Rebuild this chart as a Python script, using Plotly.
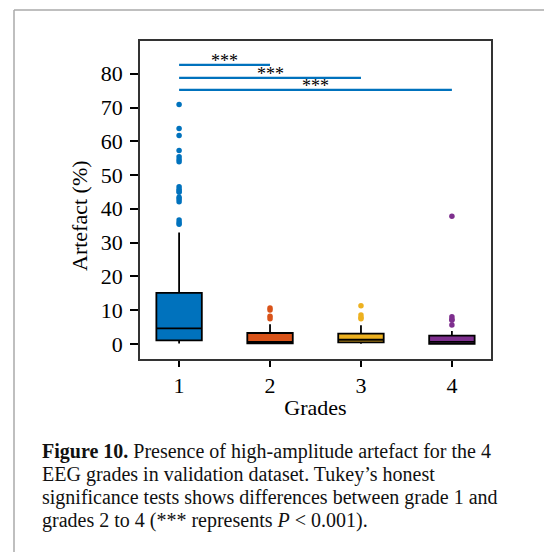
import plotly.graph_objects as go

# ---- data ----
grades = [1, 2, 3, 4]
colors = ["#0072BD", "#D95319", "#EDB120", "#7E2F8E"]
q1 = [1.0, 0.1, 0.4, 0.0]
medians = [4.6, 0.6, 1.2, 0.6]
q3 = [15.1, 3.2, 3.0, 2.4]
lower_whisker = [0.1, 0.0, 0.0, 0.0]
upper_whisker = [33.0, 5.8, 5.5, 3.8]
outliers_g1 = [70.9, 63.8, 61.7, 57.3, 55.4, 54.6, 53.9, 46.5, 45.8, 45.3, 44.9,
               43.4, 42.8, 42.1, 36.7, 35.9, 35.4]
outliers_g2 = [10.6, 10.0, 8.2, 7.4]
outliers_g3 = [11.3, 8.5, 7.8, 7.4]
outliers_g4 = [37.8, 8.0, 7.3, 7.0, 5.6]
outliers = [outliers_g1, outliers_g2, outliers_g3, outliers_g4]

sig_pairs = [(1, 2), (1, 3), (1, 4)]
sig_heights = [82.6, 78.8, 75.2]
sig_labels = ["***", "***", "***"]

caption_lines = [
    "<b>Figure 10.</b> Presence of high-amplitude artefact for the 4",
    "EEG grades in validation dataset. Tukey’s honest",
    "significance tests shows differences between grade 1 and",
    "grades 2 to 4 (*** represents <i>P</i> &lt; 0.001).",
]

W, H = 544, 552
L, R, T, B = 140, 491, 41, 359  # plot area in pixels
SERIF = "Liberation Serif, Times New Roman, serif"

fig = go.Figure()

for g, c, a, m, b, lo, hi in zip(grades, colors, q1, medians, q3, lower_whisker, upper_whisker):
    fig.add_trace(go.Box(
        x=[g], q1=[a], median=[m], q3=[b], lowerfence=[lo], upperfence=[hi],
        width=0.5, fillcolor=c, line=dict(color="black", width=1.8),
        whiskerwidth=0, boxpoints=False, showlegend=False, hoverinfo="skip",
    ))

for g, c, pts in zip(grades, colors, outliers):
    fig.add_trace(go.Scatter(
        x=[g] * len(pts), y=pts, mode="markers",
        marker=dict(color=c, size=5.5), showlegend=False, hoverinfo="skip",
    ))

for (a, b), h, lab in zip(sig_pairs, sig_heights, sig_labels):
    fig.add_trace(go.Scatter(
        x=[a, b], y=[h, h], mode="lines",
        line=dict(color="#0072BD", width=2.2), showlegend=False, hoverinfo="skip",
    ))
    fig.add_annotation(x=(a + b) / 2, y=h, text=lab, showarrow=False,
                       xanchor="center", yanchor="bottom", yshift=-8,
                       font=dict(family=SERIF, size=18, color="black"))

# caption
def px_to_paper_x(px):
    return (px - L) / (R - L)

def px_to_paper_y(py):
    return (B - py) / (B - T)

caption_y = [451.5, 474.5, 497.5, 520.0]
for line, yy in zip(caption_lines, caption_y):
    fig.add_annotation(x=px_to_paper_x(40), y=px_to_paper_y(yy), xref="paper", yref="paper",
                       text=line, showarrow=False, xanchor="left", yanchor="middle",
                       font=dict(family=SERIF, size=20, color="#111"))

# y-axis title (placed as in the reference)
fig.add_annotation(x=px_to_paper_x(79), y=px_to_paper_y(216), xref="paper", yref="paper",
                   text="Artefact (%)", textangle=-90, showarrow=False,
                   xanchor="center", yanchor="middle",
                   font=dict(family=SERIF, size=22, color="black"))

# page border lines
border = "#aaaaaa"
fig.add_shape(type="line", xref="paper", yref="paper",
              x0=px_to_paper_x(14), x1=px_to_paper_x(14),
              y0=px_to_paper_y(10), y1=px_to_paper_y(560),
              line=dict(color=border, width=1.5))
fig.add_shape(type="line", xref="paper", yref="paper",
              x0=px_to_paper_x(14), x1=px_to_paper_x(560),
              y0=px_to_paper_y(10), y1=px_to_paper_y(10),
              line=dict(color=border, width=1.5))

axis_common = dict(showgrid=False, zeroline=False, showline=True, mirror=True,
                   linecolor="#333333", linewidth=1.5, ticks="outside",
                   tickcolor="black", tickwidth=1.5,
                   tickfont=dict(family=SERIF, size=22, color="black"))

fig.update_xaxes(range=[0.57, 4.43], tickvals=grades, ticktext=[str(g) for g in grades],
                 ticklen=6, title=dict(text="Grades", font=dict(family=SERIF, size=22, color="black"),
                                       standoff=2),
                 **axis_common)
fig.update_yaxes(range=[-4.5, 89.7], tickvals=[0, 10, 20, 30, 40, 50, 60, 70, 80],
                 ticklen=8, ticklabelstandoff=3,
                 **axis_common)

fig.update_layout(
    width=W, height=H,
    margin=dict(l=L, r=W - R, t=T, b=H - B, pad=0),
    plot_bgcolor="white", paper_bgcolor="white",
    boxmode="overlay",
)

fig.write_html("out.html")
